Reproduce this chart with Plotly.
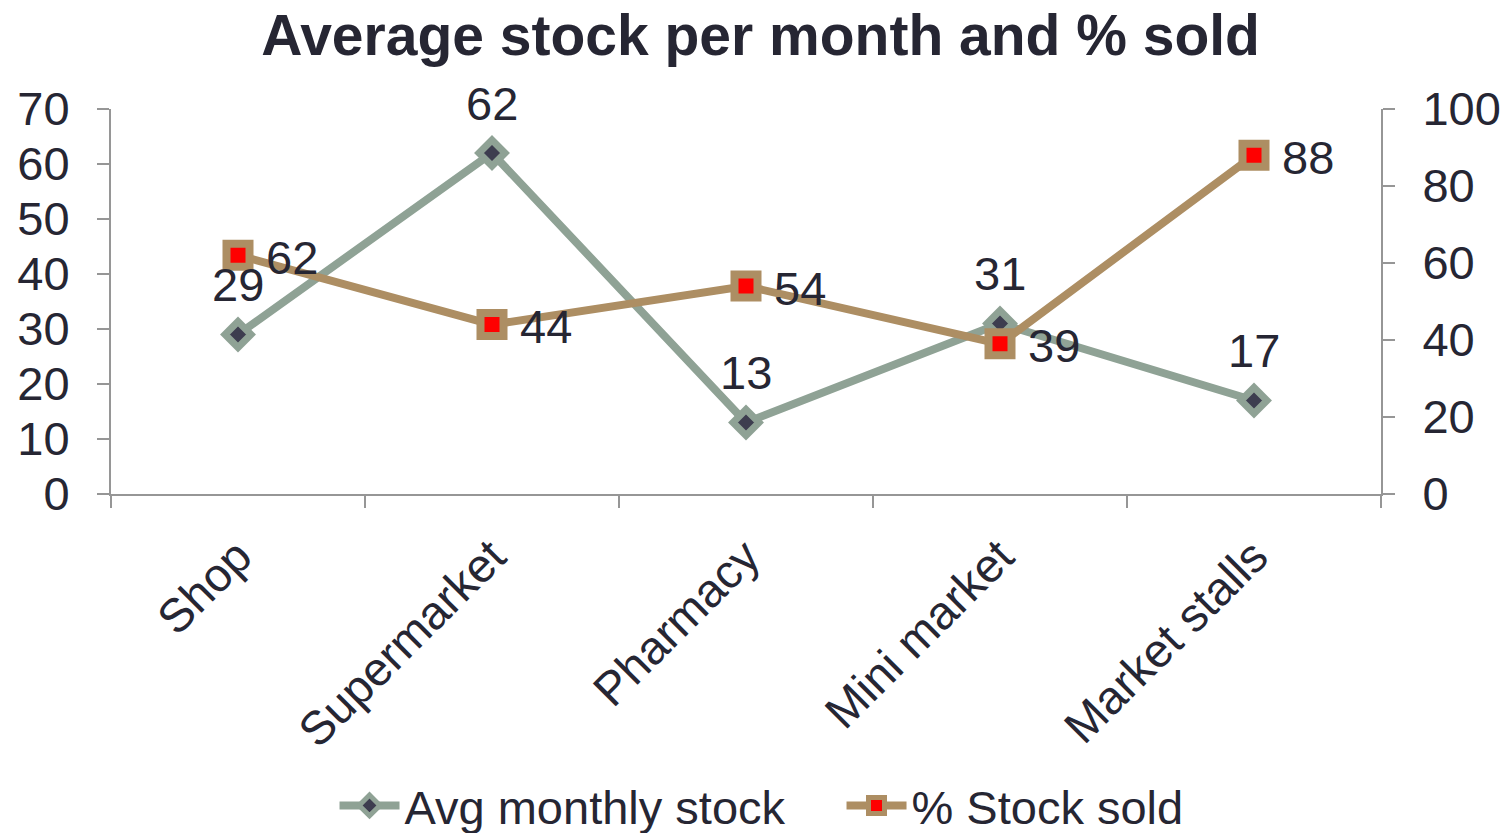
import plotly.graph_objects as go

categories = ["Shop", "Supermarket", "Pharmacy", "Mini market", "Market stalls"]
avg_stock = [29, 62, 13, 31, 17]
pct_sold = [62, 44, 54, 39, 88]

left_ticks = [0, 10, 20, 30, 40, 50, 60, 70]
right_ticks = [0, 20, 40, 60, 80, 100]

FONT = "Liberation Sans, Arial, sans-serif"
TEXT = "#262633"
AXIS = "#969696"
GREEN = "#8FA295"
TAN = "#AD8E63"
FS = 47

fig = go.Figure()

fig.add_trace(go.Scatter(
    x=categories, y=avg_stock, name="Avg monthly stock",
    mode="lines+markers",
    line=dict(color=GREEN, width=8),
    marker=dict(symbol="diamond", size=20, color="#3D3D4F",
                line=dict(color=GREEN, width=7)),
    yaxis="y",
))

fig.add_trace(go.Scatter(
    x=categories, y=pct_sold, name="% Stock sold",
    mode="lines+markers",
    line=dict(color=TAN, width=8),
    marker=dict(symbol="square", size=23, color="#FF0000",
                line=dict(color=TAN, width=8)),
    yaxis="y2",
))

annotations = []
for c, v in zip(categories, avg_stock):
    annotations.append(dict(
        x=c, y=v, xref="x", yref="y", text=str(v), showarrow=False,
        yshift=50, font=dict(size=FS, color=TEXT, family=FONT),
    ))
for c, v in zip(categories, pct_sold):
    annotations.append(dict(
        x=c, y=v, xref="x", yref="y2", text=str(v), showarrow=False,
        xanchor="left", xshift=26, yshift=-2,
        font=dict(size=FS, color=TEXT, family=FONT),
    ))

fig.update_layout(
    width=1506, height=833,
    margin=dict(l=111, r=125, t=109, b=339, autoexpand=False),
    paper_bgcolor="white", plot_bgcolor="white",
    font=dict(family=FONT, size=FS, color=TEXT),
    title=dict(text="<b>Average stock per month and % sold</b>",
               x=0.505, xanchor="center", y=0.958, yanchor="middle",
               font=dict(size=57, color=TEXT, family=FONT)),
    showlegend=True,
    legend=dict(orientation="h", x=0.176, xanchor="left",
                y=-0.81, yanchor="middle",
                font=dict(size=FS, color=TEXT, family=FONT),
                itemwidth=60, tracegroupgap=0,
                entrywidth=432, entrywidthmode="pixels"),
    xaxis=dict(
        type="category", range=[-0.5, 4.5], automargin=False,
        showline=True, linecolor=AXIS, linewidth=2,
        ticks="outside", tickson="boundaries", ticklen=12,
        tickcolor=AXIS, tickwidth=2, ticklabelstandoff=14,
        tickangle=-45, tickfont=dict(size=FS, color=TEXT, family=FONT),
        showgrid=False, zeroline=False,
    ),
    yaxis=dict(
        range=[0, 70], tickvals=left_ticks, automargin=False,
        showline=True, linecolor=AXIS, linewidth=2,
        ticks="outside", ticklen=12, tickcolor=AXIS, tickwidth=2,
        tickfont=dict(size=FS, color=TEXT, family=FONT),
        ticklabelstandoff=18,
        showgrid=False, zeroline=False,
    ),
    yaxis2=dict(
        range=[0, 100], tickvals=right_ticks, overlaying="y", side="right",
        automargin=False,
        showline=True, linecolor=AXIS, linewidth=2,
        ticks="outside", ticklen=12, tickcolor=AXIS, tickwidth=2,
        tickfont=dict(size=FS, color=TEXT, family=FONT),
        ticklabelstandoff=18,
        showgrid=False, zeroline=False,
    ),
    annotations=annotations,
)

fig.write_html("out.html")
